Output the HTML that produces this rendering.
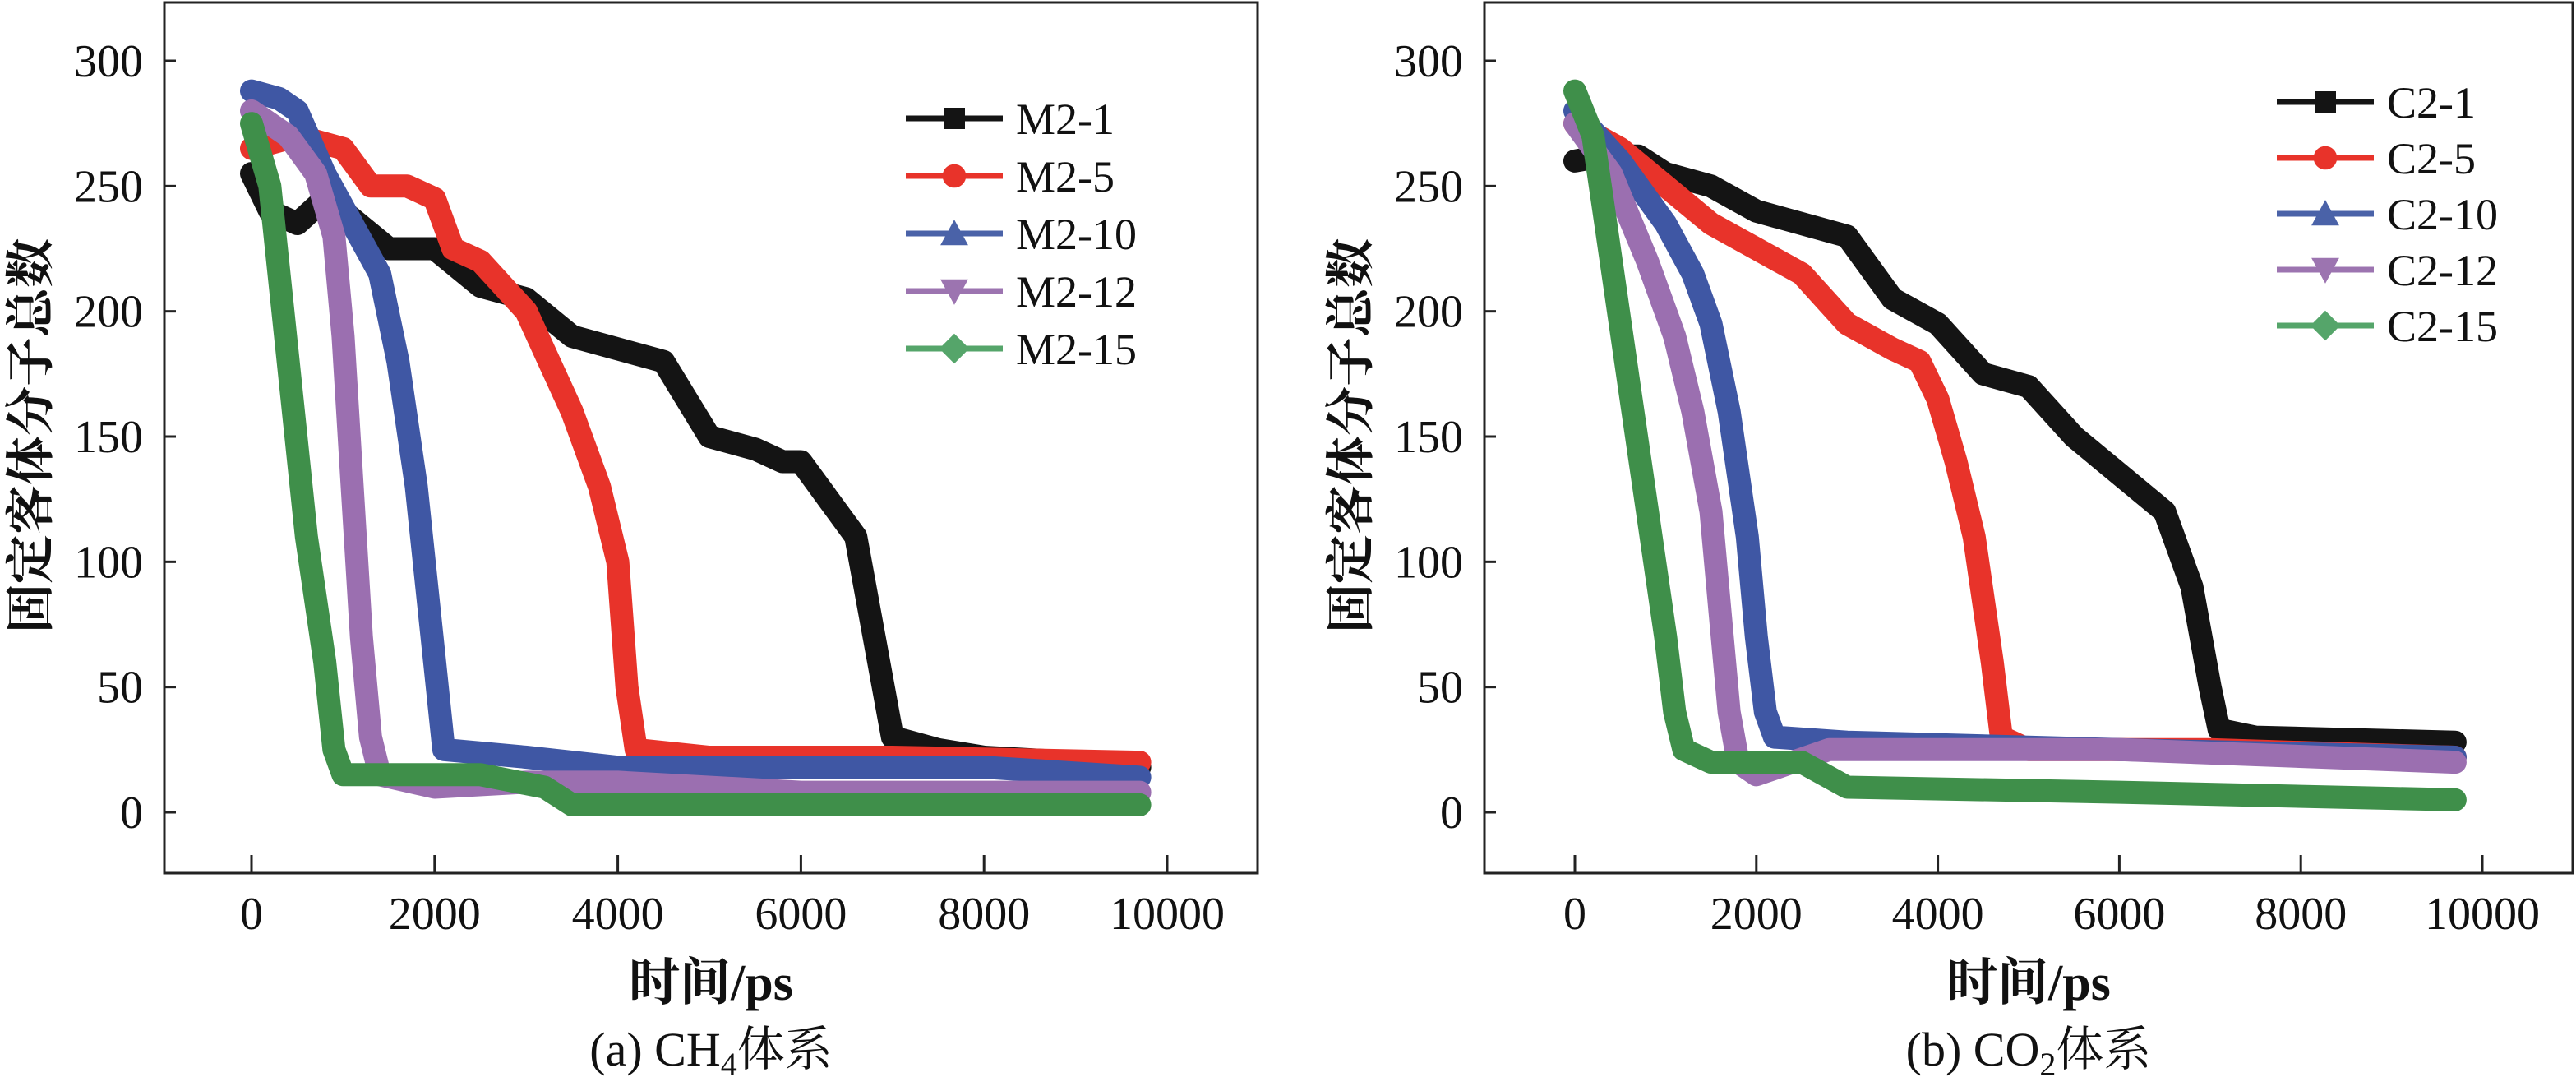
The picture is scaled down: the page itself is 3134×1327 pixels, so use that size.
<!DOCTYPE html>
<html><head><meta charset="utf-8">
<style>
html,body{margin:0;padding:0;background:#fff;}
svg{display:block;}
text{font-family:"Liberation Serif","Noto Serif CJK SC",serif;fill:#111;}
</style></head>
<body>
<svg id="chart" width="3134" height="1327" viewBox="0 0 3134 1327" xmlns="http://www.w3.org/2000/svg"></svg>
<script>
const xTicks=[0,2000,4000,6000,8000,10000];
const yTicks=[0,50,100,150,200,250,300];
const colors=['#141414','#e8332a','#3f57a4','#9b6fb0','#3f8f4a'];
const legendColors=['#141414','#e8332a','#4a62a8','#9c74b0','#55a56a'];
const markers=['square','circle','triangle','tridown','diamond'];
const namesA=['M2-1','M2-5','M2-10','M2-12','M2-15'];
const namesB=['C2-1','C2-5','C2-10','C2-12','C2-15'];
const a1x=[0,200,500,800,1000,1500,2000,2500,3000,3500,4000,4500,5000,5500,5800,6000,6300,6600,6800,7000,7500,8000,9000,9700];
const a1y=[255,240,235,245,240,225,225,210,205,190,185,180,150,145,140,140,125,110,70,30,25,22,20,18];
const a5x=[0,500,1000,1300,1700,2000,2200,2500,3000,3500,3800,4000,4100,4200,5000,7000,9700];
const a5y=[265,270,265,250,250,245,225,220,200,160,130,100,50,25,22,22,20];
const a10x=[0,300,500,800,1100,1400,1600,1800,2000,2100,3000,4000,6000,8000,9700];
const a10y=[288,285,280,255,235,215,180,130,60,25,22,18,18,18,14];
const a12x=[0,400,700,900,1000,1100,1200,1300,1400,2000,3000,4000,6000,9700];
const a12y=[280,270,255,230,190,130,70,30,15,10,12,12,8,8];
const a15x=[0,200,400,600,800,900,1000,1500,2500,3200,3500,6000,9700];
const a15y=[275,250,180,110,60,25,15,15,15,10,3,3,3];
const b1x=[0,300,700,1000,1500,2000,2500,3000,3500,4000,4500,5000,5500,6000,6500,6800,7000,7100,7500,9700];
const b1y=[260,262,262,255,250,240,235,230,205,195,175,170,150,135,120,90,50,33,30,28];
const b5x=[0,500,1000,1500,2000,2500,3000,3500,3800,4000,4200,4400,4600,4700,5000,7000,9700];
const b5y=[275,265,250,235,225,215,195,185,180,165,140,110,60,30,25,25,22];
const b10x=[0,500,1000,1300,1500,1700,1900,2000,2100,2200,3000,6000,9700];
const b10y=[280,260,235,215,195,160,110,70,40,30,28,25,22];
const b12x=[0,400,800,1100,1300,1500,1600,1700,1800,2000,2800,6000,9700];
const b12y=[275,255,220,190,160,120,80,40,20,15,25,25,20];
const b15x=[0,200,400,600,800,1000,1100,1200,1500,2500,3000,6000,9700];
const b15y=[288,270,220,170,120,70,40,25,20,20,10,8,5];

const svg=document.getElementById('chart');
const NS='http://www.w3.org/2000/svg';
function mk(tag,attrs,parent){const e=document.createElementNS(NS,tag);for(const k in attrs)e.setAttribute(k,attrs[k]);(parent||svg).appendChild(e);return e;}
function marker(g,type,cx,cy,s,col){
  let e;
  if(type==='square')e=mk('rect',{x:cx-s,y:cy-s,width:2*s,height:2*s,fill:col},g);
  else if(type==='circle')e=mk('circle',{cx:cx,cy:cy,r:s*1.1,fill:col},g);
  else if(type==='triangle')e=mk('polygon',{points:`${cx},${cy-s*1.3} ${cx-s*1.3},${cy+s*1.1} ${cx+s*1.3},${cy+s*1.1}`,fill:col},g);
  else if(type==='tridown')e=mk('polygon',{points:`${cx},${cy+s*1.3} ${cx-s*1.3},${cy-s*1.1} ${cx+s*1.3},${cy-s*1.1}`,fill:col},g);
  else e=mk('polygon',{points:`${cx},${cy-s*1.4} ${cx+s*1.4},${cy} ${cx},${cy+s*1.4} ${cx-s*1.4},${cy}`,fill:col},g);
  
  
}
function panel(id,frame,x0px,x10px,series,names,leg,caption){
  const g=mk('g',{});
  
  
  const X=v=>x0px+(x10px-x0px)*v/10000;
  const Y=v=>988-(988-74)*v/300;
  const sg=mk('g',{},g);
  
  
  series.forEach((s,i)=>{
    const pts=s[0].map((x,j)=>X(x).toFixed(1)+','+Y(s[1][j]).toFixed(1)).join(' ');
    const p=mk('polyline',{points:pts,fill:'none',stroke:colors[i],'stroke-width':28,'stroke-linejoin':'round','stroke-linecap':'round'},sg);
    
    
  });
  const fr=mk('rect',{x:frame[0],y:frame[1],width:frame[2]-frame[0],height:frame[3]-frame[1],fill:'none',stroke:'#222','stroke-width':3},g);
  
  
  yTicks.forEach(v=>{
    const t=mk('line',{x1:frame[0],x2:frame[0]+14,y1:Y(v),y2:Y(v),stroke:'#222','stroke-width':3},g);
    
    
    const l=mk('text',{x:frame[0]-26,y:Y(v)+19,'text-anchor':'end','font-size':56},g);
    l.textContent=v;
    
    
  });
  xTicks.forEach(v=>{
    const t=mk('line',{x1:X(v),x2:X(v),y1:frame[3],y2:frame[3]-22,stroke:'#222','stroke-width':3},g);
    
    
    const l=mk('text',{x:X(v),y:1130,'text-anchor':'middle','font-size':56},g);
    l.textContent=v;
    
    
  });
  const cx=(frame[0]+frame[2])/2;
  const xt=mk('text',{x:cx,y:1216,'text-anchor':'middle','font-size':62,'font-weight':'bold'},g);
  xt.textContent='时间/ps';
  
  
  const cap=mk('text',{x:cx,y:1296,'text-anchor':'middle','font-size':58},g);
  cap.innerHTML=caption;
  
  
  const yt=mk('text',{x:0,y:0,'text-anchor':'middle','font-size':60,'font-weight':'bold',transform:`translate(${frame[0]-142},530) rotate(-90)`},g);
  yt.textContent='固定客体分子总数';
  
  
  names.forEach((n,i)=>{
    const lg=mk('g',{},g);
    
    
    const yy=leg[1]+i*leg[2];
    const ln=mk('line',{x1:leg[0],x2:leg[0]+118,y1:yy,y2:yy,stroke:legendColors[i],'stroke-width':7},lg);
    
    
    marker(lg,markers[i],leg[0]+59,yy,13,legendColors[i]);
    const t=mk('text',{x:leg[0]+134,y:yy+19,'font-size':54},lg);
    t.textContent=n;
    
    
  });
}
panel('panel-a-ch4',[200,3,1530,1062],306,1420,
  [[a1x,a1y],[a5x,a5y],[a10x,a10y],[a12x,a12y],[a15x,a15y]],namesA,[1102,144,70],
  '(a) CH<tspan font-size="40" dy="12">4</tspan><tspan dy="-12">体系</tspan>');
panel('panel-b-co2',[1806,3,3130,1062],1916,3020,
  [[b1x,b1y],[b5x,b5y],[b10x,b10y],[b12x,b12y],[b15x,b15y]],namesB,[2770,124,68],
  '(b) CO<tspan font-size="40" dy="12">2</tspan><tspan dy="-12">体系</tspan>');
</script>
</body></html>
